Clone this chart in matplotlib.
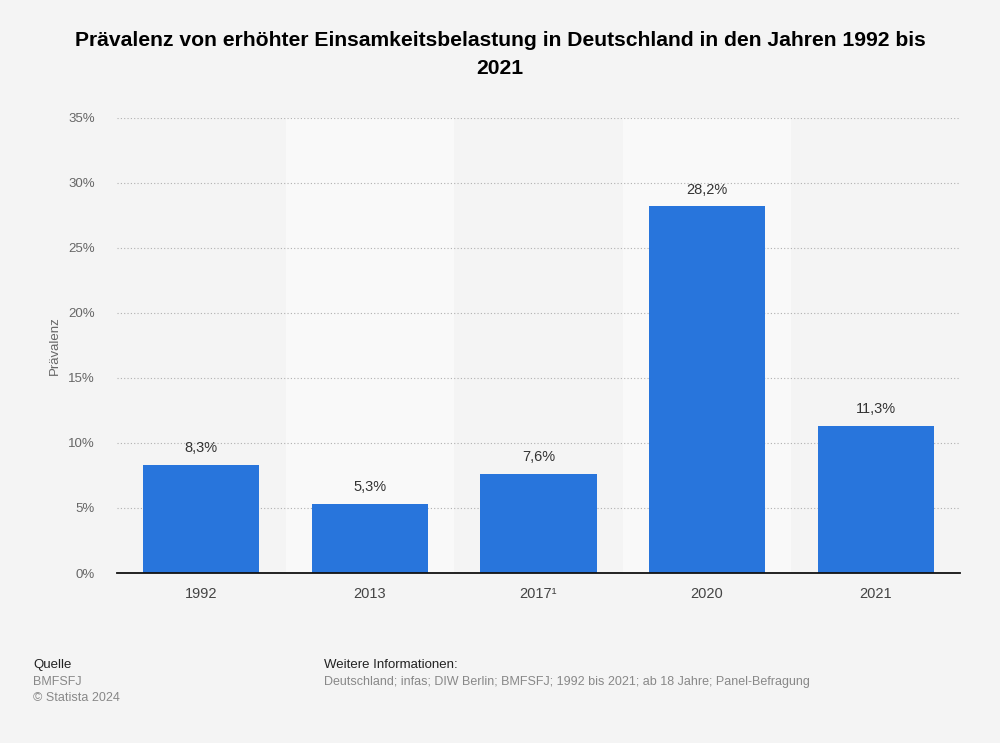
import matplotlib
matplotlib.use("Agg")
import matplotlib.pyplot as plt
import numpy as np

categories = ["1992", "2013", "2017¹", "2020", "2021"]
values = [8.3, 5.3, 7.6, 28.2, 11.3]
value_labels = ["8,3%", "5,3%", "7,6%", "28,2%", "11,3%"]
yticks = [0, 5, 10, 15, 20, 25, 30, 35]
ytick_labels = ["0%", "5%", "10%", "15%", "20%", "25%", "30%", "35%"]

plt.rcParams['font.family'] = ['Liberation Sans', 'DejaVu Sans']

fig = plt.figure(figsize=(10, 7.43), dpi=100)
fig.patch.set_facecolor('#f4f4f4')
ax = fig.add_axes([0.117, 0.2288, 0.843, 0.6124])
ax.set_facecolor('#f4f4f4')

x = np.arange(len(categories))
# alternating bands
for i in x:
    if i % 2 == 1:
        ax.axvspan(i - 0.5, i + 0.5, color='#f9f9f9', zorder=0, lw=0)

ax.set_ylim(0, 35)
ax.set_xlim(-0.5, len(categories) - 0.5)
ax.set_yticks(yticks)
ax.set_yticklabels(ytick_labels)
ax.yaxis.grid(True, linestyle=(0, (1, 2)), color='#b0b0b0', linewidth=0.8, zorder=1)
ax.set_axisbelow(True)

bars = ax.bar(x, values, width=0.69, color='#2875dc', zorder=3)
for xi, v, lab in zip(x, values, value_labels):
    ax.annotate(lab, (xi, v), xytext=(0, 7), textcoords='offset points',
                ha='center', va='bottom', fontsize=10.5, color='#333333')

ax.set_xticks(x)
ax.set_xticklabels(categories)
ax.tick_params(axis='x', length=0, pad=10, labelsize=10.5, labelcolor='#444444')
ax.tick_params(axis='y', length=0, pad=16, labelsize=9.5, labelcolor='#666666')
for s in ['top', 'right', 'left']:
    ax.spines[s].set_visible(False)
ax.spines['bottom'].set_color('#111111')
ax.spines['bottom'].set_linewidth(1.3)
ax.spines['bottom'].set_zorder(4)

ax.set_ylabel("Prävalenz", fontsize=9.5, color='#666666', labelpad=10)
ax.yaxis.set_label_coords(-0.067, 0.5)

fig.text(0.5, 1 - 54 / 743, "Prävalenz von erhöhter Einsamkeitsbelastung in Deutschland in den Jahren 1992 bis\n2021",
         ha='center', va='center', fontsize=15.2, fontweight='bold', color='#000000', linespacing=1.6)

fig.text(0.033, 1 - 665 / 743, "Quelle", fontsize=9.5, color='#222222', va='center')
fig.text(0.033, 1 - 682 / 743, "BMFSFJ", fontsize=9, color='#888888', va='center')
fig.text(0.033, 1 - 698 / 743, "© Statista 2024", fontsize=9, color='#888888', va='center')
fig.text(0.324, 1 - 665 / 743, "Weitere Informationen:", fontsize=9.5, color='#222222', va='center')
fig.text(0.324, 1 - 682 / 743, "Deutschland; infas; DIW Berlin; BMFSFJ; 1992 bis 2021; ab 18 Jahre; Panel-Befragung",
         fontsize=9, color='#888888', va='center')

fig.savefig("out.png", dpi=100, facecolor=fig.get_facecolor())
